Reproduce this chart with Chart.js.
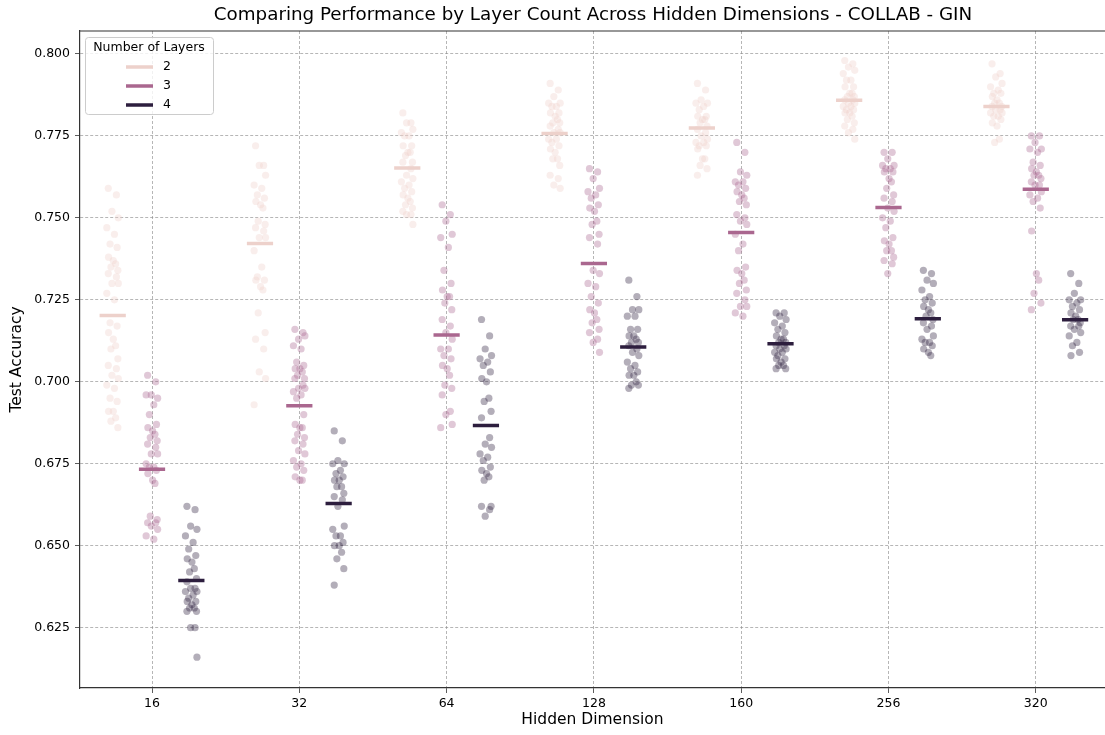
<!DOCTYPE html>
<html>
<head>
<meta charset="utf-8">
<title>COLLAB - GIN</title>
<script src="https://cdn.jsdelivr.net/npm/chart.js@4.4.0/dist/chart.umd.min.js"></script>
<style>
    html, body { margin: 0; padding: 0; background: #ffffff; }
    #wrap { width: 1105px; height: 735px; }
</style>
</head>
<body>
<div id="wrap"><canvas id="stripChart" width="1105" height="735"></canvas></div>
<script>
// categories and hue levels
const categories = ['16', '32', '64', '128', '160', '256', '320'];
const layerNames = ['2', '3', '4'];
const yTicks = [0.625, 0.650, 0.675, 0.700, 0.725, 0.750, 0.775, 0.800];

// test accuracy per run, one list per hidden dimension
const acc2 = [
    [0.759,0.757,0.752,0.750,0.747,0.745,0.742,0.741,0.738,0.737,0.736,0.735,0.734,0.733,0.732,0.730,0.730,0.727,0.725,0.718,0.717,0.715,0.713,0.711,0.710,0.707,0.705,0.704,0.702,0.701,0.699,0.698,0.695,0.694,0.691,0.691,0.689,0.688,0.686],
    [0.772,0.766,0.766,0.763,0.760,0.759,0.757,0.756,0.755,0.754,0.753,0.749,0.748,0.747,0.746,0.744,0.744,0.740,0.735,0.732,0.731,0.731,0.729,0.728,0.721,0.715,0.713,0.710,0.703,0.701,0.693],
    [0.782,0.779,0.779,0.777,0.776,0.775,0.775,0.772,0.772,0.770,0.770,0.769,0.767,0.767,0.765,0.763,0.762,0.761,0.760,0.759,0.758,0.757,0.756,0.755,0.754,0.753,0.752,0.751,0.751,0.748],
    [0.791,0.789,0.787,0.785,0.785,0.784,0.784,0.782,0.782,0.781,0.780,0.779,0.779,0.778,0.777,0.776,0.776,0.774,0.774,0.773,0.772,0.771,0.770,0.768,0.768,0.766,0.763,0.762,0.760,0.759],
    [0.791,0.789,0.786,0.785,0.785,0.784,0.783,0.781,0.781,0.780,0.780,0.779,0.778,0.777,0.776,0.775,0.774,0.773,0.773,0.772,0.772,0.771,0.768,0.768,0.766,0.765,0.763],
    [0.798,0.797,0.796,0.795,0.794,0.792,0.792,0.790,0.790,0.788,0.788,0.787,0.787,0.786,0.786,0.785,0.785,0.784,0.784,0.783,0.783,0.782,0.782,0.781,0.780,0.779,0.778,0.777,0.776,0.774],
    [0.797,0.794,0.793,0.791,0.790,0.789,0.788,0.788,0.787,0.786,0.785,0.785,0.784,0.784,0.783,0.783,0.782,0.782,0.781,0.781,0.780,0.779,0.778,0.774,0.773]
];
const acc3 = [
    [0.702,0.700,0.696,0.695,0.696,0.693,0.690,0.687,0.686,0.685,0.684,0.683,0.682,0.681,0.680,0.678,0.678,0.675,0.674,0.674,0.673,0.672,0.670,0.669,0.659,0.658,0.657,0.657,0.656,0.655,0.653,0.652],
    [0.716,0.715,0.713,0.714,0.711,0.710,0.706,0.705,0.704,0.704,0.703,0.702,0.701,0.701,0.699,0.698,0.698,0.697,0.696,0.695,0.690,0.687,0.686,0.686,0.684,0.683,0.682,0.681,0.679,0.678,0.676,0.675,0.674,0.673,0.671,0.670,0.670],
    [0.754,0.751,0.749,0.745,0.744,0.741,0.734,0.730,0.728,0.726,0.726,0.724,0.722,0.719,0.717,0.715,0.713,0.710,0.710,0.708,0.707,0.705,0.704,0.702,0.699,0.698,0.696,0.691,0.690,0.687,0.686],
    [0.765,0.764,0.762,0.759,0.758,0.757,0.756,0.754,0.753,0.752,0.749,0.748,0.745,0.744,0.742,0.734,0.733,0.730,0.729,0.726,0.724,0.722,0.721,0.719,0.718,0.716,0.715,0.713,0.712,0.709],
    [0.773,0.770,0.764,0.763,0.761,0.761,0.760,0.759,0.758,0.757,0.756,0.755,0.754,0.751,0.750,0.749,0.748,0.745,0.742,0.740,0.735,0.734,0.733,0.731,0.730,0.728,0.727,0.725,0.723,0.723,0.721,0.720],
    [0.770,0.770,0.768,0.766,0.766,0.765,0.765,0.764,0.764,0.762,0.761,0.759,0.757,0.756,0.755,0.753,0.752,0.750,0.749,0.747,0.744,0.743,0.742,0.740,0.740,0.738,0.737,0.736,0.733],
    [0.775,0.775,0.773,0.771,0.771,0.770,0.767,0.766,0.765,0.764,0.763,0.763,0.762,0.761,0.760,0.760,0.758,0.757,0.756,0.755,0.753,0.746,0.733,0.731,0.727,0.724,0.722]
];
const acc4 = [
    [0.662,0.661,0.656,0.655,0.653,0.651,0.649,0.647,0.646,0.645,0.643,0.642,0.640,0.639,0.637,0.637,0.636,0.636,0.635,0.634,0.633,0.633,0.632,0.631,0.631,0.630,0.630,0.625,0.625,0.616],
    [0.685,0.682,0.676,0.675,0.675,0.673,0.672,0.671,0.670,0.670,0.668,0.668,0.666,0.665,0.664,0.662,0.656,0.655,0.653,0.653,0.651,0.650,0.650,0.648,0.646,0.643,0.638],
    [0.719,0.714,0.710,0.708,0.707,0.706,0.705,0.703,0.701,0.700,0.695,0.694,0.691,0.689,0.683,0.681,0.680,0.678,0.677,0.676,0.674,0.673,0.672,0.671,0.670,0.662,0.662,0.661,0.659],
    [0.731,0.726,0.722,0.722,0.720,0.720,0.716,0.716,0.714,0.714,0.713,0.712,0.712,0.711,0.710,0.709,0.708,0.706,0.705,0.704,0.703,0.702,0.702,0.700,0.699,0.699,0.698],
    [0.721,0.721,0.720,0.719,0.718,0.717,0.716,0.715,0.714,0.713,0.713,0.712,0.712,0.711,0.711,0.710,0.710,0.709,0.709,0.708,0.707,0.707,0.706,0.705,0.705,0.704,0.704],
    [0.734,0.733,0.731,0.730,0.728,0.726,0.725,0.724,0.723,0.722,0.721,0.720,0.719,0.718,0.717,0.716,0.714,0.713,0.712,0.712,0.711,0.710,0.709,0.708],
    [0.733,0.730,0.727,0.725,0.725,0.724,0.723,0.722,0.721,0.720,0.719,0.719,0.718,0.717,0.717,0.716,0.715,0.714,0.712,0.711,0.709,0.708]
];

// mean lines
const mean2 = [0.7202, 0.7422, 0.7652, 0.7757, 0.7774, 0.7859, 0.7840];
const mean3 = [0.6733, 0.6927, 0.7143, 0.7361, 0.7455, 0.7532, 0.7587];
const mean4 = [0.6394, 0.6629, 0.6867, 0.7106, 0.7116, 0.7192, 0.7189];

// cubehelix colours for 2 / 3 / 4 layers
const layerColors = ['237,209,203', '170,103,143', '45,30,62'];
// fixed strip jitter pattern (category units)
const jitter = [-0.03, 0.025, -0.005, 0.038, -0.04, 0.012, -0.018, 0.03, -0.028, 0.004, 0.02, -0.012, 0.035];

document.addEventListener('DOMContentLoaded', function() {
    const accs = [acc2, acc3, acc4];
    const means = [mean2, mean3, mean4];
    const dodge = [-0.267, 0, 0.267];
    const halfWidth = 0.089;
    const font = 'DejaVu Sans';

    const pointSets = accs.map((acc, h) => ({
        type: 'scatter',
        label: 'runs ' + layerNames[h],
        order: 2,
        data: acc.flatMap((vals, c) => vals.map((v, k) => ({
            x: c + dodge[h] + jitter[k % jitter.length],
            y: v
        }))),
        backgroundColor: 'rgba(' + layerColors[h] + ',0.36)',
        borderWidth: 0,
        pointRadius: 3.6,
        pointHoverRadius: 3.6
    }));

    const meanSets = means.map((m, h) => ({
        type: 'line',
        label: layerNames[h],
        order: 1,
        data: m.flatMap((v, c) => [
            { x: c + dodge[h] - halfWidth, y: v },
            { x: c + dodge[h] + halfWidth, y: v },
            { x: c + dodge[h] + halfWidth, y: null }
        ]),
        borderColor: 'rgb(' + layerColors[h] + ')',
        borderWidth: 3.5,
        pointRadius: 0,
        spanGaps: false,
        fill: false
    }));

    // title, top spine and the legend box
    const decorations = {
        id: 'decorations',
        afterDraw(chart) {
            const ctx = chart.ctx;
            const area = chart.chartArea;
            ctx.save();

            ctx.strokeStyle = '#333';
            ctx.lineWidth = 1.2;
            ctx.beginPath();
            ctx.moveTo(area.left, area.top);
            ctx.lineTo(area.right, area.top);
            ctx.stroke();

            ctx.fillStyle = '#000';
            ctx.font = '18.3px "' + font + '"';
            ctx.textAlign = 'center';
            ctx.textBaseline = 'middle';
            ctx.fillText('Comparing Performance by Layer Count Across Hidden Dimensions - COLLAB - GIN', 593, 15);

            // legend
            const bx = 85, by = 37, bw = 128, bh = 77;
            ctx.fillStyle = 'rgba(255,255,255,0.8)';
            ctx.strokeStyle = '#cccccc';
            ctx.lineWidth = 1;
            ctx.beginPath();
            ctx.roundRect(bx + 0.5, by + 0.5, bw, bh, 3);
            ctx.fill();
            ctx.stroke();

            ctx.fillStyle = '#000';
            ctx.font = '12.5px "' + font + '"';
            ctx.fillText('Number of Layers', bx + bw / 2, 48);
            ctx.textAlign = 'left';
            layerNames.forEach((name, h) => {
                const y = 67 + h * 19;
                ctx.strokeStyle = 'rgb(' + layerColors[h] + ')';
                ctx.lineWidth = 3.5;
                ctx.beginPath();
                ctx.moveTo(126, y);
                ctx.lineTo(153, y);
                ctx.stroke();
                ctx.fillStyle = '#000';
                ctx.fillText(name, 163, y);
            });
            ctx.restore();
        }
    };

    const gridStyle = {
        color: 'rgba(140,140,140,0.8)',
        lineWidth: 0.8,
        tickLength: 5,
        tickColor: '#333',
        tickBorderDash: []
    };
    const borderStyle = { display: true, color: '#333', width: 1.2, dash: [3, 2] };

    // keep the plot box fixed: no extra room for edge labels
    function noEdgePadding(scale) {
        scale.paddingLeft = 0;
        scale.paddingRight = 0;
        scale.paddingTop = 0;
        scale.paddingBottom = 0;
    }

    new Chart(document.getElementById('stripChart'), {
        type: 'scatter',
        data: { datasets: meanSets.concat(pointSets) },
        options: {
            responsive: false,
            animation: false,
            layout: {
                autoPadding: false,
                padding: { top: 31, right: 0, left: 0, bottom: 0 }
            },
            plugins: {
                legend: { display: false },
                tooltip: { enabled: false },
                title: { display: false }
            },
            scales: {
                x: {
                    type: 'linear',
                    min: -0.489,
                    max: 6.47,
                    afterBuildTicks: function(scale) {
                        scale.ticks = categories.map((c, i) => ({ value: i }));
                    },
                    afterFit: function(scale) {
                        scale.height = 47;
                        noEdgePadding(scale);
                    },
                    ticks: {
                        callback: function(value, index) { return categories[index]; },
                        font: { family: font, size: 12.5 },
                        color: '#000',
                        padding: 3,
                        autoSkip: false,
                        maxRotation: 0
                    },
                    grid: gridStyle,
                    border: borderStyle,
                    title: {
                        display: true,
                        text: 'Hidden Dimension',
                        font: { family: font, size: 15.5 },
                        color: '#000',
                        padding: { top: 0, bottom: 6 }
                    }
                },
                y: {
                    type: 'linear',
                    min: 0.6066,
                    max: 0.807,
                    afterBuildTicks: function(scale) {
                        scale.ticks = yTicks.map(v => ({ value: v }));
                    },
                    afterFit: function(scale) {
                        scale.width = 80;
                        noEdgePadding(scale);
                    },
                    ticks: {
                        callback: function(value) { return Number(value).toFixed(3); },
                        font: { family: font, size: 12.5 },
                        color: '#000',
                        padding: 5
                    },
                    grid: gridStyle,
                    border: borderStyle,
                    title: {
                        display: true,
                        text: 'Test Accuracy',
                        font: { family: font, size: 15.5 },
                        color: '#000',
                        padding: { top: 8, bottom: 0 }
                    }
                }
            }
        },
        plugins: [decorations]
    });
});
</script>
</body>
</html>
